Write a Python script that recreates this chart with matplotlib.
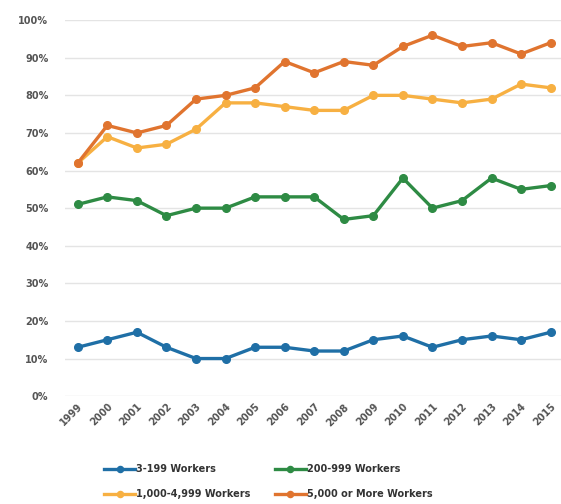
import matplotlib
matplotlib.use("Agg")
import matplotlib.pyplot as plt
from matplotlib.ticker import FuncFormatter

years = list(range(1999, 2016))
small = [13, 15, 17, 13, 10, 10, 13, 13, 12, 12, 15, 16, 13, 15, 16, 15, 17]
mid = [51, 53, 52, 48, 50, 50, 53, 53, 53, 47, 48, 58, 50, 52, 58, 55, 56]
large = [62, 69, 66, 67, 71, 78, 78, 77, 76, 76, 80, 80, 79, 78, 79, 83, 82]
jumbo = [62, 72, 70, 72, 79, 80, 82, 89, 86, 89, 88, 93, 96, 93, 94, 91, 94]

series = [
    ("3-199 Workers", small, "#1f6fa6"),
    ("1,000-4,999 Workers", large, "#f7b042"),
    ("200-999 Workers", mid, "#2e8b44"),
    ("5,000 or More Workers", jumbo, "#e0742f"),
]

fig = plt.figure(figsize=(5.61, 5.04), dpi=100)
ax = fig.add_axes([0.116, 0.214, 0.884, 0.746])

# draw orange lines last so they sit on top, like the original
for name, vals, col in [series[0], series[2], series[1], series[3]]:
    ax.plot(years, vals, "-o", color=col, lw=2.4, ms=5.5, label=name)

# a bit of room on the right so the 2015 label isn't clipped
ax.set_xlim(1998.57, 2015.35)
ax.set_ylim(0, 100)
ax.set_yticks(range(0, 101, 10))
ax.yaxis.set_major_formatter(FuncFormatter(lambda v, p: "%d%%" % v))
ax.set_xticks(years)
ax.set_xticklabels([str(y) for y in years], rotation=45, ha="right",
                   rotation_mode="anchor", fontsize=7, color="#555555", fontweight="bold")
for t in ax.get_yticklabels():
    t.set_fontsize(7)
    t.set_color("#555555")
    t.set_fontweight("bold")
ax.tick_params(length=0, pad=12)
ax.tick_params(axis="x", pad=4)
ax.grid(axis="y", color="#e4e4e4", lw=1)
ax.set_axisbelow(True)
for s in ax.spines.values():
    s.set_visible(False)

handles, labels = ax.get_legend_handles_labels()
order = [labels.index(s[0]) for s in series]
leg = fig.legend([handles[i] for i in order], [labels[i] for i in order],
                 loc="lower left", bbox_to_anchor=(0.17, -0.008), ncol=2,
                 frameon=False, fontsize=7, handlelength=3.2, handletextpad=0.1,
                 columnspacing=2.5, labelspacing=1.55, markerscale=0.8)
for t in leg.get_texts():
    t.set_color("#333333")
    t.set_fontweight("bold")

fig.savefig("out.png", dpi=100)
